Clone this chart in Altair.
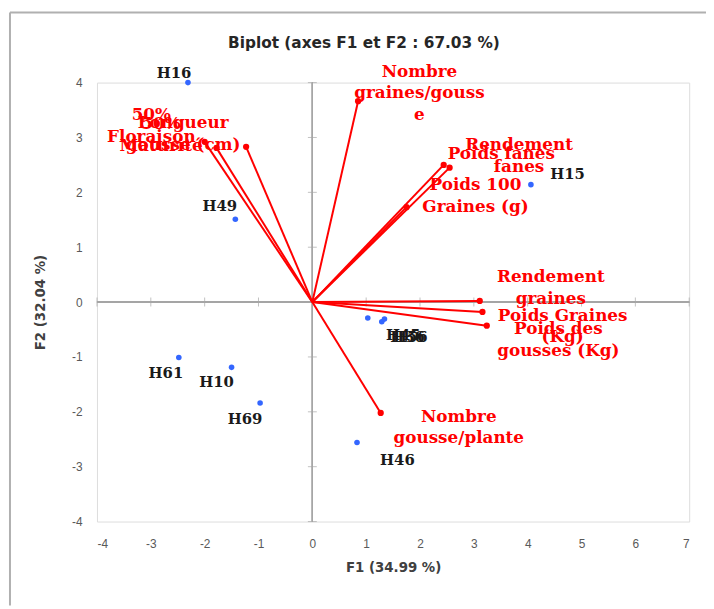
import altair as alt
import pandas as pd

# ---------------- data ----------------
obs_names = ["H16", "H49", "H15", "H61", "H10", "H69", "H46", "H45", "H36", "H56"]
obs_f1 = [-2.31, -1.43, 4.06, -2.48, -1.50, -0.97, 0.83, 1.03, 1.29, 1.34]
obs_f2 = [4.00, 1.51, 2.14, -1.01, -1.19, -1.84, -2.56, -0.29, -0.36, -0.31]
# label anchor points (data units)
obs_lab_f1 = [-2.57, -1.72, 4.74, -2.72, -1.78, -1.25, 1.58, 1.69, 1.77, 1.82]
obs_lab_f2 = [4.18, 1.75, 2.34, -1.30, -1.46, -2.13, -2.88, -0.61, -0.63, -0.63]

var_labels = [
    "Nombre\ngraines/gouss\ne",
    "Rendement\nfanes",
    "Poids fanes",
    "Poids 100\nGraines (g)",
    "Rendement\ngraines",
    "Poids Graines\n(Kg)",
    "Poids des\ngousses (Kg)",
    "Nombre\ngousse/plante",
    "50%\nFloraison",
    "50%\nMaturité",
    "Longueur\ngousse (cm)",
]
var_f1 = [0.85, 2.44, 2.55, 1.75, 3.11, 3.16, 3.24, 1.27, -2.00, -1.78, -1.23]
var_f2 = [3.66, 2.50, 2.45, 1.73, 0.02, -0.18, -0.43, -2.02, 2.92, 2.81, 2.83]
# label anchor of the first line (data units)
var_lab_f1 = [1.99, 3.84, 3.51, 3.03, 4.43, 4.65, 4.57, 2.72, -2.99, -2.81, -2.40]
var_lab_f2 = [4.20, 2.86, 2.70, 2.13, 0.45, -0.25, -0.50, -2.09, 3.41, 3.24, 3.26]

x_ticks = [-4, -3, -2, -1, 0, 1, 2, 3, 4, 5, 6, 7]
y_ticks = [-4, -3, -2, -1, 0, 1, 2, 3, 4]

title_text = "Biplot (axes F1 et F2 : 67.03 %)"
x_title = "F1 (34.99 %)"
y_title = "F2 (32.04 %)"

# ---------------- tables ----------------
obs = pd.DataFrame({"name": obs_names, "f1": obs_f1, "f2": obs_f2,
                    "lx": obs_lab_f1, "ly": obs_lab_f2})
var = pd.DataFrame({"name": var_labels, "f1": var_f1, "f2": var_f2,
                    "lx": var_lab_f1, "ly": var_lab_f2, "o": [0.0] * len(var_labels)})
xt = pd.DataFrame({"v": [v for v in x_ticks if v != 0]})
yt = pd.DataFrame({"v": [v for v in y_ticks if v != 0]})

xscale = alt.Scale(domain=[-4, 7], nice=False, zero=False)
yscale = alt.Scale(domain=[-4, 4], nice=False, zero=False)

xaxis = alt.Axis(values=x_ticks, title=x_title, grid=False, ticks=False, domain=False,
                 labelExpr="'' + datum.value",
                 labelPadding=17, titlePadding=12, labelFont="Liberation Sans",
                 labelFontSize=12, labelColor="#595959", titleFont="DejaVu Sans",
                 titleFontSize=13.5, titleFontWeight="bold", titleColor="#404040")
yaxis = alt.Axis(values=y_ticks, title=y_title, grid=False, ticks=False, domain=False,
                 labelExpr="'' + datum.value",
                 labelPadding=15, titlePadding=24, labelFont="Liberation Sans",
                 labelFontSize=12, labelColor="#595959", titleFont="DejaVu Sans",
                 titleFontSize=13.5, titleFontWeight="bold", titleColor="#404040")

GRAY = "#a6a6a6"
RED = "#ff0000"

points = alt.Chart(obs).mark_circle(size=32, color="#3366ff", opacity=1).encode(
    x=alt.X("f1:Q", scale=xscale, axis=xaxis),
    y=alt.Y("f2:Q", scale=yscale, axis=yaxis),
)

hline = alt.Chart(xt).mark_rule(color=GRAY, strokeWidth=1).encode(
    x=alt.datum(-4), x2=alt.datum(7), y=alt.datum(0))
vline = alt.Chart(yt).mark_rule(color=GRAY, strokeWidth=1).encode(
    y=alt.datum(-4), y2=alt.datum(4), x=alt.datum(0))
hticks = alt.Chart(xt).mark_tick(color=GRAY, orient="vertical", size=9, thickness=1).encode(
    x="v:Q", y=alt.datum(0))
vticks = alt.Chart(yt).mark_tick(color=GRAY, orient="horizontal", size=9, thickness=1).encode(
    y="v:Q", x=alt.datum(0))

vectors = alt.Chart(var).mark_rule(color=RED, strokeWidth=2).encode(
    x="o:Q", y="o:Q", x2="f1:Q", y2="f2:Q")
vdots = alt.Chart(var).mark_circle(size=40, color=RED, opacity=1).encode(
    x="f1:Q", y="f2:Q")
vlabels = alt.Chart(var).mark_text(
    font="DejaVu Serif", fontWeight="bold", fontSize=17, color=RED,
    lineBreak="\n", lineHeight=22, align="center", baseline="middle").encode(
    x="lx:Q", y="ly:Q", text="name:N")

olabels = alt.Chart(obs).mark_text(
    font="DejaVu Serif", fontWeight="bold", fontSize=15, color="#1a1a1a",
    align="center", baseline="middle").encode(
    x="lx:Q", y="ly:Q", text="name:N")

frame_src = pd.DataFrame({"t": [title_text]})
frame_top = alt.Chart(frame_src).mark_rule(color="#b0b0b0", strokeWidth=2).encode(
    x=alt.value(-88), x2=alt.value(616), y=alt.value(-71))
frame_left = alt.Chart(frame_src).mark_rule(color="#b0b0b0", strokeWidth=2).encode(
    x=alt.value(-88), y=alt.value(-71), y2=alt.value(529))
title_mark = alt.Chart(frame_src).mark_text(
    font="DejaVu Sans", fontSize=15.5, fontWeight="bold", color="#262626",
    align="center", baseline="middle").encode(
    x=alt.value(270), y=alt.value(-40), text="t:N")

chart = alt.layer(
    hline, vline, hticks, vticks, points, vectors, vdots, vlabels, olabels,
    frame_top, frame_left, title_mark,
).properties(
    width=599, height=444,
    autosize=alt.AutoSizeParams(type="none"),
    padding={"left": 90, "top": 72, "right": 17, "bottom": 85},
).configure_view(stroke="#8c8c8c", strokeWidth=1.5).configure(background="white")

chart.save("out.html", embed_options={"renderer": "svg", "actions": False})
